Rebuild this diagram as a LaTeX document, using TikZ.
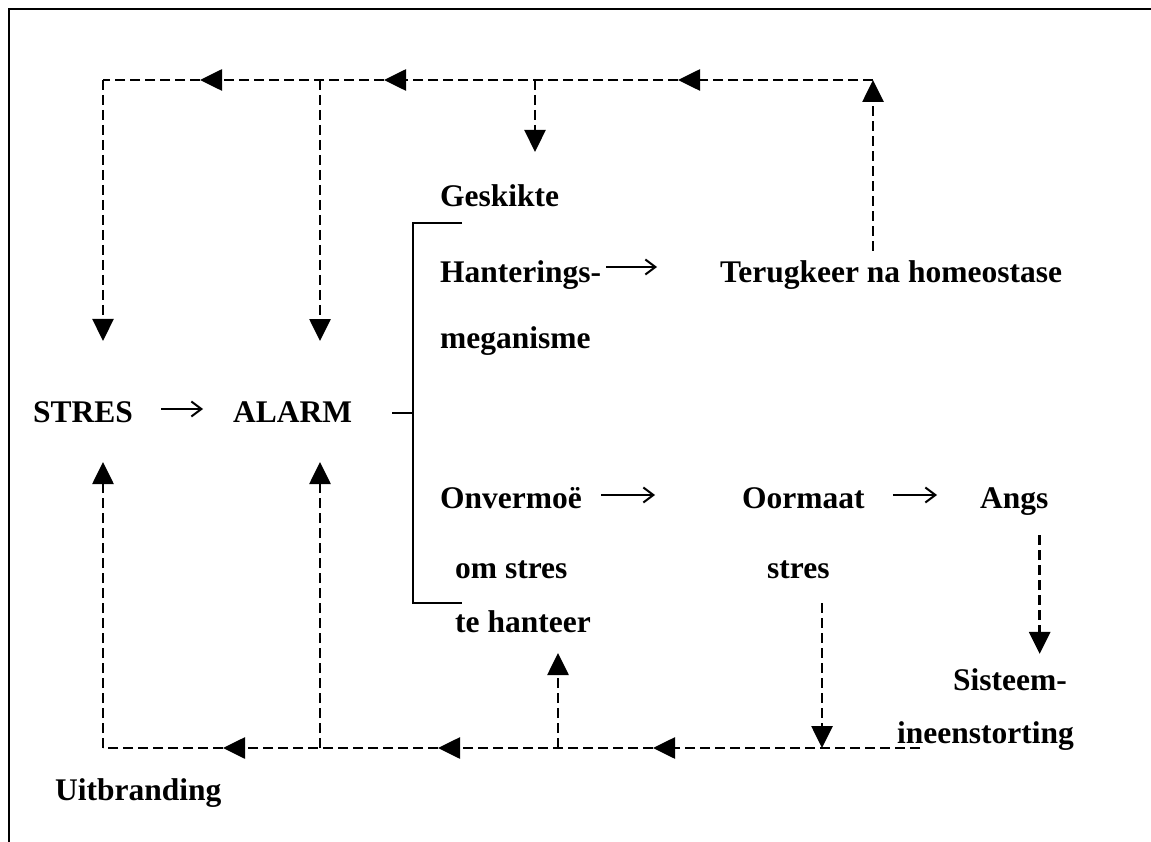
\documentclass[tikz,border=0pt]{standalone}
\usepackage{fontspec}
\setmainfont{Liberation Serif}
\usetikzlibrary{arrows.meta,calc}

\tikzset{
  lbl/.style={anchor=base west, inner sep=0pt, font=\bfseries\fontsize{31.5}{36}\selectfont},
  dash line/.style={line width=2.7pt, dash pattern=on 10pt off 5pt},
  tri/.style={dash line, -{Triangle[length=22pt,width=21pt]}},
  solid arrow/.style={line width=2pt, -{Straight Barb[length=10pt,width=15pt,line width=2pt]}},
  bracket/.style={line width=2pt},
  frame/.style={line width=2.4pt}
}

\begin{document}
\begin{tikzpicture}[x=1pt,y=-1pt]
\useasboundingbox (0,0) rectangle (1151,842);

% outer frame (top and left edges)
\draw[frame] (9,842) -- (9,9) -- (1151,9);

% labels
\node[lbl] (stres)     at (33,422)  {STRES};
\node[lbl] (alarm)     at (233,422) {ALARM};
\node[lbl] (geskikte)  at (440,207) {Geskikte};
\node[lbl] (hanter)    at (440,283) {Hanterings-};
\node[lbl] (megan)     at (440,348) {meganisme};
\node[lbl] (terug)     at (720,283) {Terugkeer na homeostase};
\node[lbl] (onverm)    at (440,508) {Onvermoë};
\node[lbl] (oormaat)   at (742,508) {Oormaat};
\node[lbl] (angs)      at (980,508) {Angs};
\node[lbl] (omstres)   at (455,578) {om stres};
\node[lbl] (ostres)    at (767,578) {stres};
\node[lbl] (tehanteer) at (455,632) {te hanteer};
\node[lbl] (sisteem)   at (953,690) {Sisteem-};
\node[lbl] (ineen)     at (897,743) {ineenstorting};
\node[lbl] (uitbr)     at (55,800)  {Uitbranding};

% solid arrows
\draw[solid arrow] ($(stres.base east)+(28,-13)$) -- ($(alarm.base west)+(-30,-13)$);
\draw[solid arrow] ($(hanter.base east)+(5,-16)$) -- ($(terug.base west)+(-63,-16)$);
\draw[solid arrow] ($(onverm.base east)+(19,-13)$) -- ($(oormaat.base west)+(-87,-13)$);
\draw[solid arrow] ($(oormaat.base east)+(28,-13)$) -- ($(angs.base west)+(-43,-13)$);

% bracket joining ALARM to the two outcomes
\coordinate (bk) at (413,413);
\draw[bracket] ($(alarm.base east)+(40,-9)$) -- (bk);
\draw[bracket] (462,223) -- (413,223) -- (413,603) -- (462,603);

% top feedback line
\coordinate (tr) at (873,80);
\coordinate (t1) at (678,80);
\coordinate (tg) at (535,80);
\coordinate (t2) at (384,80);
\coordinate (ta) at (320,80);
\coordinate (t3) at (200,80);
\coordinate (tl) at (103,80);

\draw[tri, shorten <=10pt] (terug.north -| tr) -- (tr);
\draw[tri] (tr) -- (t1);
\draw[tri] (t1) -- (t2);
\draw[tri] (t2) -- (t3);
\draw[dash line] (t3) -- (tl);
\draw[tri, shorten >=60pt] (tl) -- (tl |- stres.north);
\draw[tri, shorten >=60pt] (ta) -- (ta |- alarm.north);
\draw[tri, shorten >=33pt] (tg) -- (tg |- geskikte.north);

% bottom feedback line
\coordinate (br) at (920,748);
\coordinate (bo) at (822,748);
\coordinate (b1) at (653,748);
\coordinate (bh) at (558,748);
\coordinate (b2) at (438,748);
\coordinate (ba) at (320,748);
\coordinate (b3) at (223,748);
\coordinate (bl) at (103,748);

\draw[tri] (br) -- (b1);
\draw[tri] (b1) -- (b2);
\draw[tri] (b2) -- (b3);
\draw[dash line] (b3) -- (bl);
\draw[tri, shorten >=40pt] (bl) -- (bl |- stres.base);
\draw[tri, shorten >=40pt] (ba) -- (ba |- alarm.base);
\draw[tri, shorten >=21pt] (bh) -- (bh |- tehanteer.base);
\draw[tri, shorten <=25pt] (ostres.base -| bo) -- (bo);
\draw[tri, shorten <=20pt, shorten >=14pt]
  ([xshift=-9pt]angs.south east) -- ([xshift=-9pt]angs.south east |- sisteem.north);

\end{tikzpicture}
\end{document}
